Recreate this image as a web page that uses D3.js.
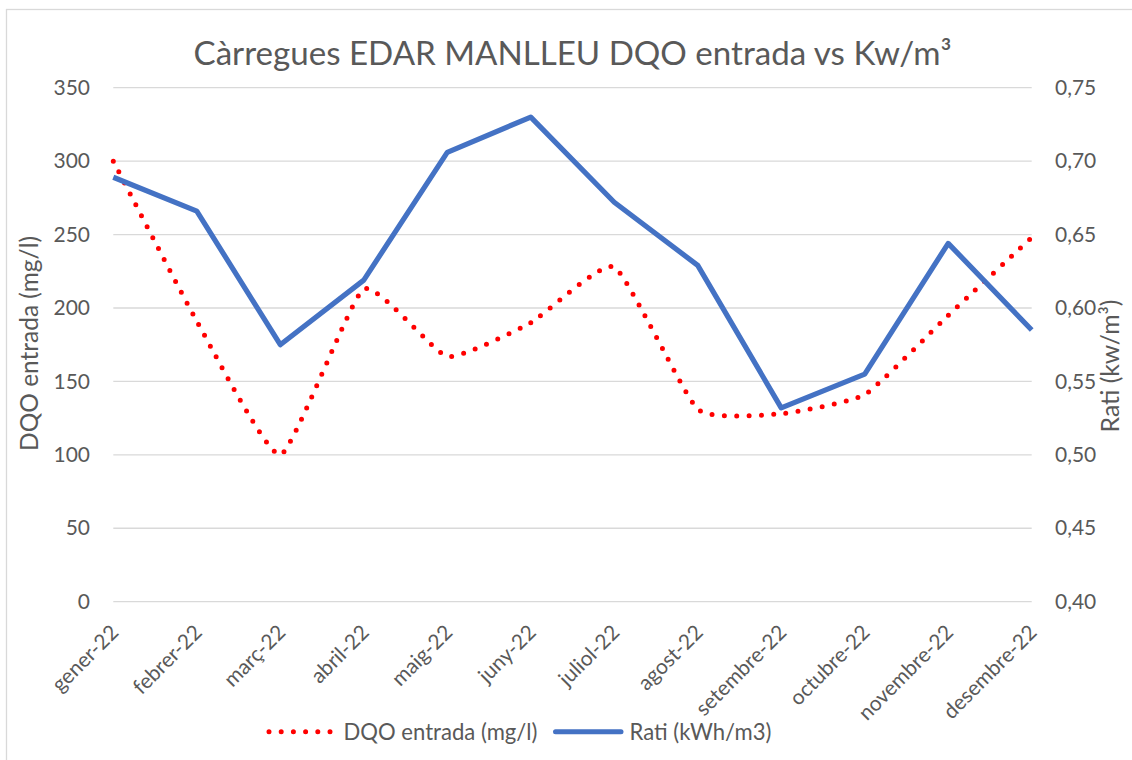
<!DOCTYPE html>
<html>
<head>
<meta charset="utf-8">
<script src="https://cdn.jsdelivr.net/npm/d3@7"></script>
<style>
  html, body { margin: 0; padding: 0; background: #ffffff; }
  svg { display: block; }
  text { font-family: Lato, "Open Sans", sans-serif; fill: #595959; }
</style>
</head>
<body>
<svg id="chart" width="1132" height="760"></svg>
<script>
// ---- data ----
const months = ["gener-22", "febrer-22", "març-22", "abril-22", "maig-22", "juny-22",
                "juliol-22", "agost-22", "setembre-22", "octubre-22", "novembre-22", "desembre-22"];
const dqoEntrada = [300, 191, 100, 213, 167, 190, 228, 131, 128, 141, 195, 248];
const ratiKwh = [0.689, 0.666, 0.575, 0.619, 0.706, 0.730, 0.672, 0.629, 0.532, 0.555, 0.644, 0.585];
const leftTicks = [0, 50, 100, 150, 200, 250, 300, 350];
const rightTicks = [0.40, 0.45, 0.50, 0.55, 0.60, 0.65, 0.70, 0.75];
const titleText = "Càrregues EDAR MANLLEU DQO entrada vs Kw/m³";
const leftTitle = "DQO entrada (mg/l)";
const rightTitle = "Rati (kw/m³)";
const seriesNames = ["DQO entrada (mg/l)", "Rati (kWh/m3)"];

// ---- layout ----
const svg = d3.select("#chart");
const plot = { left: 113.3, right: 1031.7, top: 87.7, bottom: 601.7 };
const RED = "#FF0000", BLUE = "#4472C4", GRID = "#D9D9D9";

function fit(sel, target) {
  const fs = parseFloat(sel.attr("font-size"));
  const w = sel.node().getComputedTextLength();
  if (w > 0) sel.attr("font-size", fs * target / w);
  return sel;
}

// chart border
svg.append("rect").attr("x", 6.5).attr("y", 9.5).attr("width", 1200).attr("height", 800)
  .attr("fill", "#fff").attr("stroke", GRID).attr("stroke-width", 1.3);

// scales
const x = d3.scalePoint().domain(months).range([plot.left, plot.right]);
const yL = d3.scaleLinear().domain([0, 350]).range([plot.bottom, plot.top]);
const yR = d3.scaleLinear().domain([0.40, 0.75]).range([plot.bottom, plot.top]);

// tick font size calibration
const probe = svg.append("text").attr("font-size", 20).text("350");
fit(probe, 36.5);
const tickFs = parseFloat(probe.attr("font-size"));
probe.remove();

// gridlines
svg.append("g").selectAll("line").data(leftTicks).join("line")
  .attr("x1", plot.left).attr("x2", plot.right)
  .attr("y1", d => yL(d)).attr("y2", d => yL(d))
  .attr("stroke", GRID).attr("stroke-width", 1.3);

// left axis
const gL = svg.append("g").attr("transform", `translate(${plot.left},0)`)
  .call(d3.axisLeft(yL).tickValues(leftTicks).tickSize(0).tickPadding(23.3).tickFormat(d3.format("d")));
gL.select(".domain").remove();
gL.selectAll("text").attr("font-size", tickFs).attr("fill", "#595959").attr("font-family", null);

// right axis
const fmtR = d => d3.format(".2f")(d).replace(".", ",");
const gR = svg.append("g").attr("transform", `translate(${plot.right},0)`)
  .call(d3.axisRight(yR).tickValues(rightTicks).tickSize(0).tickPadding(23.3).tickFormat(fmtR));
gR.select(".domain").remove();
gR.selectAll("text").attr("font-size", tickFs).attr("fill", "#595959").attr("font-family", null);

// bottom axis
const gB = svg.append("g").attr("transform", `translate(0,${plot.bottom})`)
  .call(d3.axisBottom(x).tickSize(0));
gB.select(".domain").remove();
gB.selectAll("text")
  .attr("font-size", tickFs).attr("fill", "#595959").attr("font-family", null)
  .attr("x", 0).attr("y", 0).attr("dy", 0)
  .attr("text-anchor", "end")
  .attr("transform", "translate(6,32) rotate(-45)");

// series lines
const lineL = d3.line().x((d, i) => x(months[i])).y(d => yL(d)).curve(d3.curveCardinal.tension(0.55));
const lineR = d3.line().x((d, i) => x(months[i])).y(d => yR(d));

svg.append("path").datum(dqoEntrada).attr("d", lineL)
  .attr("fill", "none").attr("stroke", RED).attr("stroke-width", 5)
  .attr("stroke-linecap", "round").attr("stroke-dasharray", "0 12.3");

svg.append("path").datum(ratiKwh).attr("d", lineR)
  .attr("fill", "none").attr("stroke", BLUE).attr("stroke-width", 5.2)
  .attr("stroke-linejoin", "round").attr("stroke-linecap", "butt");

// title
const t = svg.append("text").attr("x", (plot.left + plot.right) / 2).attr("y", 65)
  .attr("text-anchor", "middle").attr("font-size", 36).text(titleText);
fit(t, 758);

// axis titles
const lt = svg.append("text").attr("transform", "translate(38,343.5) rotate(-90)")
  .attr("text-anchor", "middle").attr("font-size", 26).text(leftTitle);
fit(lt, 215);
const rt = svg.append("text").attr("transform", "translate(1119,366) rotate(-90)")
  .attr("text-anchor", "middle").attr("font-size", 26).text(rightTitle);
fit(rt, 133);

// legend
const lg = svg.append("g");
lg.append("line").attr("x1", 269).attr("x2", 330).attr("y1", 731.7).attr("y2", 731.7)
  .attr("stroke", RED).attr("stroke-width", 5).attr("stroke-linecap", "round")
  .attr("stroke-dasharray", "0 12.2");
const l1 = lg.append("text").attr("x", 343.5).attr("y", 740).attr("font-size", 24).text(seriesNames[0]);
fit(l1, 194);
lg.append("line").attr("x1", 555.5).attr("x2", 621).attr("y1", 731.7).attr("y2", 731.7)
  .attr("stroke", BLUE).attr("stroke-width", 5).attr("stroke-linecap", "round");
const l2 = lg.append("text").attr("x", 629.5).attr("y", 740).attr("font-size", 24).text(seriesNames[1]);
fit(l2, 142);
</script>
</body>
</html>
